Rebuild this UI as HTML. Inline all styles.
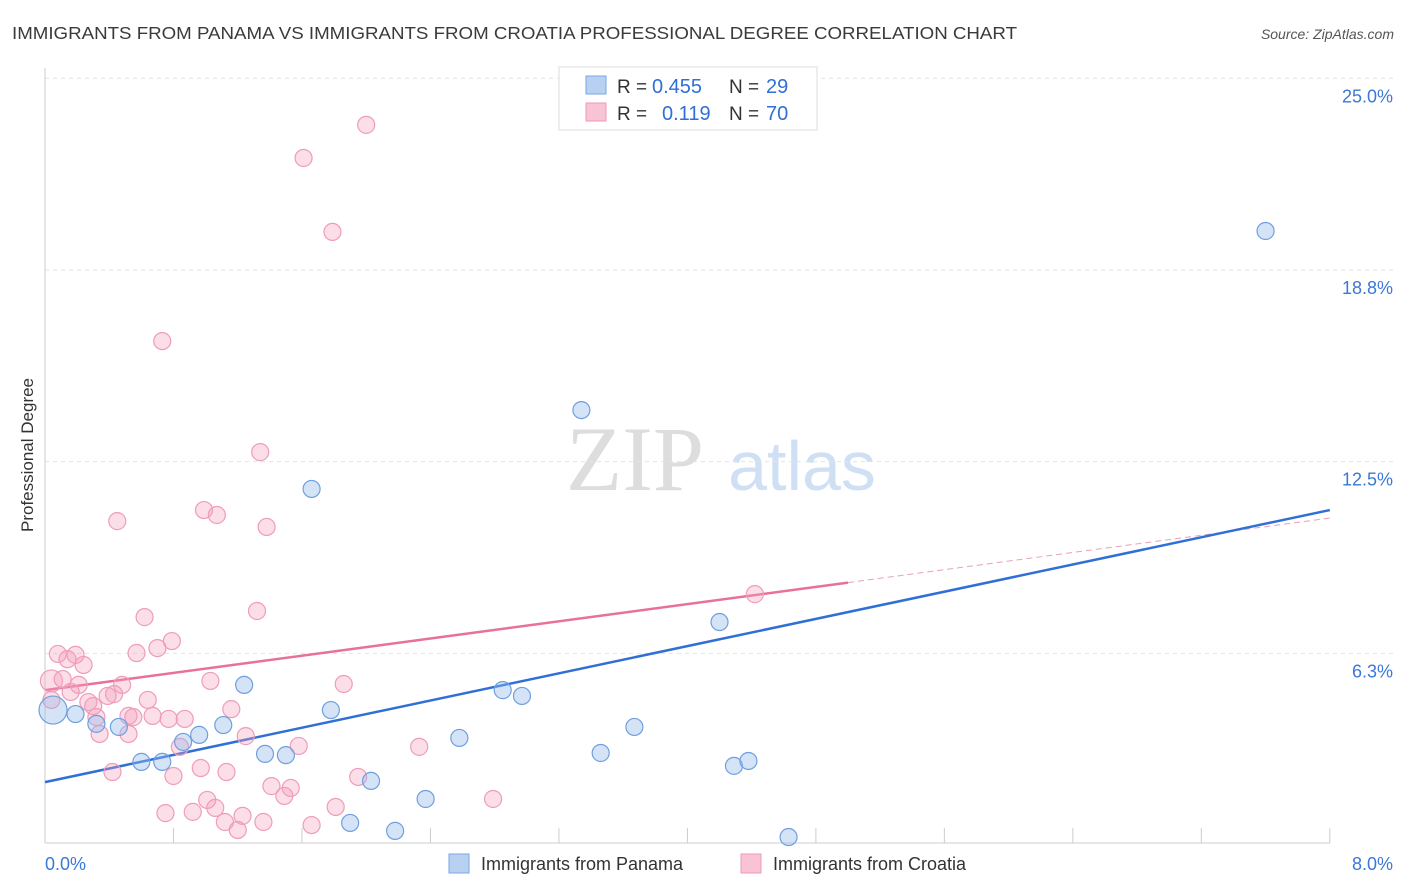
<!DOCTYPE html>
<html><head><meta charset="utf-8"><style>
body{margin:0;background:#fff;font-family:"Liberation Sans",sans-serif;}
svg{display:block}
</style></head><body>
<svg id="chart" width="1406" height="892">
<text x="12" y="39" font-size="17.5" fill="#3a3a3a" textLength="1005" lengthAdjust="spacingAndGlyphs">IMMIGRANTS FROM PANAMA VS IMMIGRANTS FROM CROATIA PROFESSIONAL DEGREE CORRELATION CHART</text>
<text x="1394" y="39" font-size="14" fill="#555" text-anchor="end" font-style="italic">Source: ZipAtlas.com</text>
<text transform="translate(33,455) rotate(-90)" font-size="17" fill="#333" text-anchor="middle">Professional Degree</text>
<g><text x="635" y="490" font-size="92" fill="#ddd" text-anchor="middle" font-family="Liberation Serif">ZIP</text><text x="802" y="490" font-size="70" fill="#cfe0f5" text-anchor="middle">atlas</text></g>
<g id="grid"></g><g id="axes"></g><g id="lines"></g><g id="pts"></g>
<g>
<rect x="559" y="67" width="258" height="63" fill="#fff" stroke="#ddd"/>
<rect x="586" y="76" width="20" height="18" fill="#b8d1f3" stroke="#7aa6e3"/>
<rect x="586" y="103" width="20" height="18" fill="#f8c3d4" stroke="#ee9ab7"/>
<text x="617" y="93" font-size="19" fill="#333">R =</text>
<text x="652" y="93" font-size="20" fill="#2f6fd6">0.455</text>
<text x="729" y="93" font-size="19" fill="#333">N =</text>
<text x="766" y="93" font-size="20" fill="#2f6fd6">29</text>
<text x="617" y="120" font-size="19" fill="#333">R =</text>
<text x="662" y="120" font-size="20" fill="#2f6fd6">0.119</text>
<text x="729" y="120" font-size="19" fill="#333">N =</text>
<text x="766" y="120" font-size="20" fill="#2f6fd6">70</text>
</g>
<g>
<rect x="449" y="854" width="20" height="19" fill="#b8d1f3" stroke="#7aa6e3"/>
<text x="481" y="870" font-size="18" fill="#333">Immigrants from Panama</text>
<rect x="741" y="854" width="20" height="19" fill="#f8c3d4" stroke="#ee9ab7"/>
<text x="773" y="870" font-size="18" fill="#333">Immigrants from Croatia</text>
</g>
</svg>
<script>
const yTicks=[6.25,12.5,18.75,25];
const yTickLabels=["6.3%","12.5%","18.8%","25.0%"];
const xTicks=[0,0.8,1.6,2.4,3.2,4,4.8,5.6,6.4,7.2,8];
const panamaX=[0.05,0.19,0.32,0.46,0.60,0.73,0.86,0.96,1.11,1.24,1.37,1.50,1.66,1.78,1.90,2.03,2.18,2.37,2.58,2.85,2.97,3.34,3.46,3.67,4.20,4.29,4.38,4.63,7.60];
const panamaY=[4.40,4.27,3.95,3.85,2.71,2.71,3.36,3.59,3.91,5.22,2.97,2.93,11.61,4.40,0.72,2.09,0.46,1.50,3.49,5.05,4.86,14.18,3.00,3.85,7.27,2.58,2.74,0.26,20.02];
const croatiaX=[2.00,1.61,1.79,0.73,1.34,0.45,0.99,1.07,1.38,4.42,0.62,1.32,0.79,0.70,0.57,0.08,0.19,0.14,0.24,0.04,0.11,0.21,0.48,1.03,1.86,0.16,0.43,0.39,0.64,0.27,0.30,1.16,0.04,0.32,0.52,0.67,0.55,0.87,0.77,0.34,0.52,1.25,0.84,1.58,2.33,0.42,0.97,0.80,1.13,1.95,1.41,1.53,1.49,2.79,1.01,1.06,1.81,0.75,0.92,1.23,1.12,1.36,1.66,1.20];
const croatiaY=[23.48,22.40,19.99,16.43,12.81,10.56,10.92,10.76,10.37,8.18,7.43,7.63,6.65,6.42,6.26,6.23,6.20,6.06,5.87,5.35,5.41,5.22,5.22,5.35,5.25,4.99,4.92,4.86,4.73,4.66,4.53,4.43,4.73,4.17,4.21,4.21,4.17,4.11,4.11,3.62,3.62,3.55,3.20,3.23,3.20,2.38,2.51,2.25,2.38,2.22,1.92,1.86,1.60,1.50,1.47,1.21,1.24,1.04,1.08,0.95,0.75,0.75,0.65,0.49];
const panamaTrend=[2.05,10.92];
const croatiaTrend=[5.05,10.66];
const croatiaSolidEnd=5.0;
const NS="http://www.w3.org/2000/svg";
const X=v=>45+v*160.6, Y=v=>845-v*30.67;
function mk(p,t,a){const e=document.createElementNS(NS,t);for(const k in a)e.setAttribute(k,a[k]);document.getElementById(p).appendChild(e);return e;}
yTicks.forEach((t,i)=>{
 const g=mk('grid','line',{x1:45,x2:1394,y1:Y(t),y2:Y(t),stroke:'#e2e2e2','stroke-dasharray':'4,4'});
 
 
 const l=mk('axes','text',{x:1393,y:Y(t)+24,'font-size':18,fill:'#3b78d8','text-anchor':'end'});l.textContent=yTickLabels[i];
 
 
});
mk('axes','line',{x1:45,x2:45,y1:68,y2:843,stroke:'#ccc'});
mk('axes','line',{x1:45,x2:1330,y1:843,y2:843,stroke:'#ccc'});
xTicks.forEach(t=>{const e=mk('axes','line',{x1:X(t),x2:X(t),y1:828,y2:843,stroke:'#ccc'});
 
 });
let a=mk('axes','text',{x:45,y:870,'font-size':18,fill:'#3b78d8'});a.textContent='0.0%';


a=mk('axes','text',{x:1393,y:870,'font-size':18,fill:'#3b78d8','text-anchor':'end'});a.textContent='8.0%';


function cy(tr,x){return tr[0]+(tr[1]-tr[0])*x/8;}
croatiaX.forEach((x,i)=>{const c=mk('pts','circle',{cx:X(x),cy:Y(croatiaY[i]),r:(i==19?11:8.5),fill:'rgba(244,160,190,0.35)',stroke:'#ef9cba','stroke-width':1.2});
 
 });
panamaX.forEach((x,i)=>{const c=mk('pts','circle',{cx:X(x),cy:Y(panamaY[i]),r:(i==0?14:8.5),fill:'rgba(150,185,235,0.4)',stroke:'#6f9fe0','stroke-width':1.2});
 
 });
let l=mk('lines','line',{x1:X(0),y1:Y(cy(croatiaTrend,0)),x2:X(croatiaSolidEnd),y2:Y(cy(croatiaTrend,croatiaSolidEnd)),stroke:'#e8709a','stroke-width':2.5});


l=mk('lines','line',{x1:X(croatiaSolidEnd),y1:Y(cy(croatiaTrend,croatiaSolidEnd)),x2:X(8),y2:Y(cy(croatiaTrend,8)),stroke:'#e8a0b8','stroke-width':1,'stroke-dasharray':'6,4'});


l=mk('lines','line',{x1:X(0),y1:Y(cy(panamaTrend,0)),x2:X(8),y2:Y(cy(panamaTrend,8)),stroke:'#2f6fd6','stroke-width':2.5});


</script>
</body></html>
